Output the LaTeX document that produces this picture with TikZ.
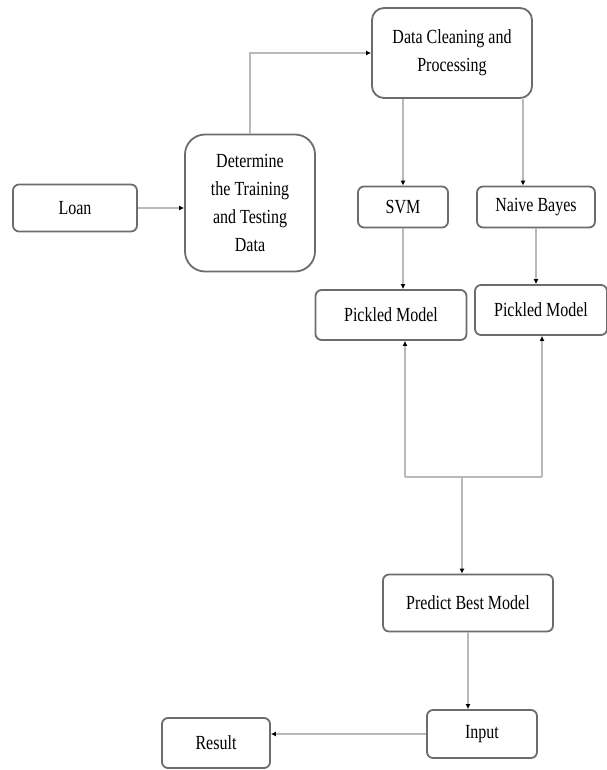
\documentclass[tikz,border=0pt]{standalone}
\usepackage{fontspec}
\setmainfont{Liberation Serif}[FakeStretch=0.8]
\usetikzlibrary{arrows.meta}

\tikzset{
  box/.style={draw=gray!85!black, line width=1.8pt, rounded corners=6pt, fill=white,
    align=center, inner sep=0pt, font=\fontsize{20}{28}\selectfont},
  link/.style={draw=gray!55, line width=2pt},
  arrow/.style={link, -{Latex[length=5pt,width=5pt,color=black]}}
}

\begin{document}
\begin{tikzpicture}[x=1pt,y=-1pt]
  \useasboundingbox (0,0) rectangle (606,770);

  % Boxes
  \node[box, minimum width=124pt, minimum height=47pt] (loan) at (75,208) {Loan};
  \node[box, minimum width=130pt, minimum height=137pt, rounded corners=20pt] (det) at (250,203)
    {Determine\\the Training\\and Testing\\Data};
  \node[box, minimum width=160pt, minimum height=90pt, rounded corners=12pt] (dc) at (452,53)
    {Data Cleaning and\\Processing};
  \node[box, minimum width=90pt, minimum height=41pt] (svm) at (403,207) {SVM};
  \node[box, minimum width=118pt, minimum height=41pt] (nb) at (536,207) {Naive Bayes};
  \node[box, minimum width=151pt, minimum height=50pt] (pk1) at (391,315) {Pickled Model};
  \node[box, minimum width=132pt, minimum height=50pt] (pk2) at (541,310) {Pickled Model};
  \node[box, minimum width=170pt, minimum height=57pt] (pred) at (468,603) {Predict Best Model};
  \node[box, minimum width=110pt, minimum height=48pt] (inp) at (482,734) {Input};
  \node[box, minimum width=108pt, minimum height=50pt] (res) at (216,743) {Result};

  % Junction below the pickled models
  \coordinate (join) at (462,477);
  \coordinate (jl) at (405,477);
  \coordinate (jr) at (542,477);

  % Arrows
  \draw[arrow] (loan.east) -- (loan.east -| det.west);
  \draw[arrow] (det.north) |- (dc.west);
  \draw[arrow] (dc.south -| svm.north) -- (svm);
  \draw[arrow] ([xshift=-13pt]dc.south -| nb.north) -- ([xshift=-13pt]nb.north);
  \draw[arrow] (svm) -- (svm |- pk1.north);
  \draw[arrow] (nb) -- (nb |- pk2.north);
  \draw[link] (jl) -- (jr);
  \draw[arrow] (jl) -- (jl |- pk1.south);
  \draw[arrow] (jr) -- (jr |- pk2.south);
  \draw[arrow] (join) -- (join |- pred.north);
  \draw[arrow] (pred) -- (pred |- inp.north);
  \draw[arrow] (inp.west) -- (inp.west -| res.east);
\end{tikzpicture}
\end{document}
